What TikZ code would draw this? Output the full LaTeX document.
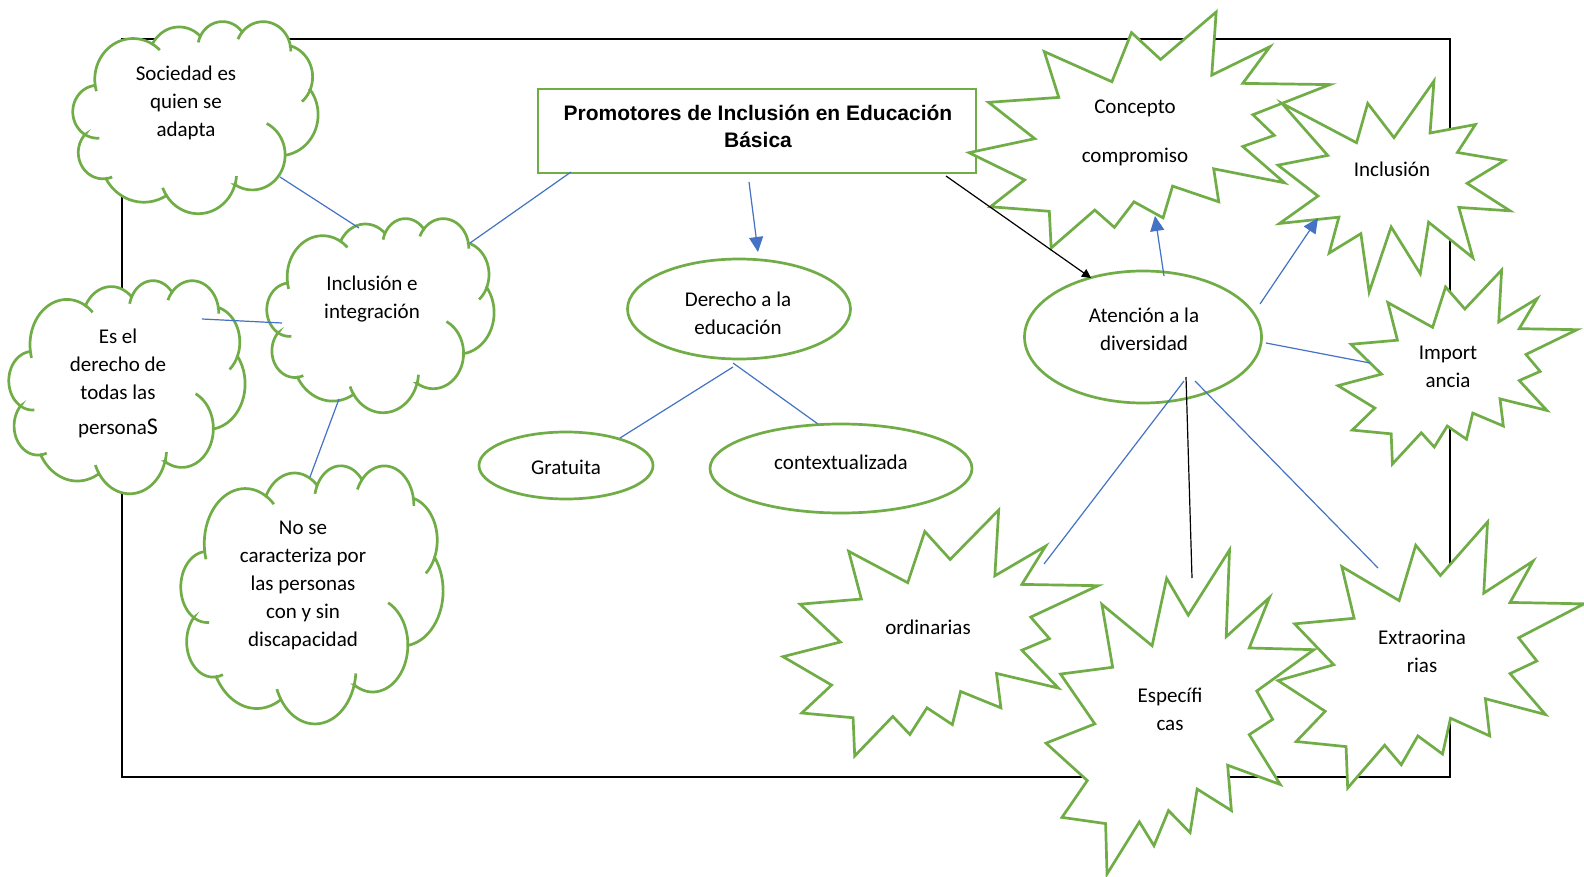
\documentclass[tikz,border=0pt]{standalone}
\usepackage{fontspec}
\setmainfont{Carlito}
\newfontfamily\arialf{Liberation Sans}
\usetikzlibrary{arrows.meta,shapes.geometric}
\definecolor{wgreen}{HTML}{70AD47}
\definecolor{wblue}{HTML}{4472C4}

\tikzset{
 shapeline/.style={draw=wgreen, line width=2.7pt},
 carc/.style={domain=#1, samples=26, variable=\t},
 txt/.style={align=center, inner sep=0pt, font=\fontsize{21}{28}\selectfont},
 ttl/.style={align=center, inner sep=0pt, font=\arialf\bfseries\fontsize{21}{27}\selectfont},
 ell/.style={ellipse, draw=wgreen, line width=2.7pt, fill=white, inner sep=0pt},
 bline/.style={draw=wblue, line width=1.2pt},
 barrow/.style={draw=wblue, line width=1.2pt, -{Triangle[length=15pt,width=14pt]}, fill=wblue},
 kline/.style={draw=black, line width=1.2pt},
 karrow/.style={draw=black, line width=1.2pt, -{Triangle[length=9pt,width=9pt]}},
}

% cloud in a 100 x 100 box, placed at left #1, top #2, size #3 x #4
\newcommand\wcloud[4]{%
\begin{scope}[shift={(#1,#2)}, xscale=#3/100, yscale=#4/100]
 \filldraw[shapeline,fill=white]
  plot[carc=-187.75:-59.65] ({24.516+15.632*cos(\t)},{30.396+21.273*sin(\t)})
  -- plot[carc=-152.02:-45.44] ({43.317+12.345*cos(\t)},{19.928+16.822*sin(\t)})
  -- plot[carc=-153.49:-37.32] ({61.021+10.104*cos(\t)},{14.083+13.762*sin(\t)})
  -- plot[carc=-139.70:-10.21] ({77.634+11.243*cos(\t)},{15.616+15.266*sin(\t)})
  -- plot[carc=-74.77:23.21] ({85.456+12.345*cos(\t)},{29.155+16.836*sin(\t)})
  -- plot[carc=-37.53:81.86] ({84.363+15.683*cos(\t)},{48.792+21.343*sin(\t)})
  -- plot[carc=0.46:121.97] ({73.192+13.391*cos(\t)},{69.773+18.211*sin(\t)})
  -- plot[carc=16.85:146.25] ({51.144+15.630*cos(\t)},{79.039+21.331*sin(\t)})
  -- plot[carc=58.98:150.20] ({28.935+17.870*cos(\t)},{69.981+24.405*sin(\t)})
  -- plot[carc=83.31:223.11] ({12.252+10.093*cos(\t)},{68.505+13.699*sin(\t)})
  -- plot[carc=120.36:264.11] ({9.965+10.058*cos(\t)},{47.271+13.762*sin(\t)})
  -- cycle;
 \draw[shapeline]
  plot[carc=85.54:120.35] ({9.965+10.058*cos(\t)},{47.271+13.762*sin(\t)})
  plot[carc=68.27:83.30] ({12.252+10.093*cos(\t)},{68.505+13.699*sin(\t)})
  plot[carc=146.23:158.47] ({51.144+15.630*cos(\t)},{79.039+21.331*sin(\t)})
  plot[carc=4.74:16.85] ({51.144+15.630*cos(\t)},{79.039+21.331*sin(\t)})
  plot[carc=-64.00:0.46] ({73.192+13.391*cos(\t)},{69.773+18.211*sin(\t)})
  plot[carc=23.21:49.66] ({85.456+12.345*cos(\t)},{29.155+16.836*sin(\t)})
  plot[carc=-10.21:0.82] ({77.634+11.243*cos(\t)},{15.616+15.266*sin(\t)})
  plot[carc=-156.29:-139.71] ({77.634+11.243*cos(\t)},{15.616+15.266*sin(\t)})
  plot[carc=-167.73:-153.49] ({61.021+10.104*cos(\t)},{14.083+13.762*sin(\t)})
  plot[carc=-59.64:-45.74] ({24.516+15.632*cos(\t)},{30.396+21.273*sin(\t)})
  plot[carc=163.19:172.25] ({24.516+15.632*cos(\t)},{30.396+21.273*sin(\t)});
\end{scope}}

% explosion 1 in a unit box
\newcommand\sealone[4]{%
\begin{scope}[shift={(#1,#2)}, xscale=#3, yscale=#4]
 \filldraw[shapeline,fill=white] (0.5,0.26852) -- (0.67231,0) -- (0.65532,0.24653)
  -- (0.85093,0.20634) -- (0.77324,0.33866) -- (0.97671,0.37671) -- (0.81514,0.48495)
  -- (1,0.61528) -- (0.77949,0.59917) -- (0.84005,0.83773) -- (0.64907,0.66931)
  -- (0.61329,0.91375) -- (0.48759,0.69144) -- (0.39282,1) -- (0.35718,0.72347)
  -- (0.22046,0.81560) -- (0.26236,0.64523) -- (0.00625,0.67532) -- (0.17231,0.54514)
  -- (0,0.39884) -- (0.21421,0.35264) -- (0.01713,0.10625) -- (0.33852,0.29259)
  -- (0.38667,0.10625) -- cycle;
\end{scope}}

% explosion 2 in a unit box
\newcommand\sealtwo[4]{%
\begin{scope}[shift={(#1,#2)}, xscale=#3, yscale=#4]
 \filldraw[shapeline,fill=white] (0.53065,0.20102) -- (0.68472,0) -- (0.67245,0.26745)
  -- (0.83366,0.14685) -- (0.75833,0.30241) -- (1,0.30764) -- (0.78634,0.43528)
  -- (0.84583,0.52269) -- (0.75833,0.56991) -- (0.87394,0.72370) -- (0.67778,0.66435)
  -- (0.69176,0.80417) -- (0.56389,0.73773) -- (0.53759,0.87231) -- (0.45704,0.80417)
  -- (0.40278,0.91259) -- (0.34847,0.83912) -- (0.22764,1) -- (0.22245,0.84444)
  -- (0.05949,0.82523) -- (0.15417,0.71157) -- (0,0.59616) -- (0.18218,0.53667)
  -- (0.05426,0.38287) -- (0.24870,0.36190) -- (0.20843,0.16782) -- (0.39583,0.29546)
  -- (0.45009,0.08736) -- cycle;
\end{scope}}

\begin{document}
\begin{tikzpicture}[x=1pt,y=-1pt]
\useasboundingbox (0,0) rectangle (1584,877);
\fill[white] (0,0) rectangle (1584,877);

% frame
\draw[line width=2.2pt] (122,39) rectangle (1450,777);

% clouds
\wcloud{73}{21}{245}{192}
\wcloud{267}{218}{227}{194}
\wcloud{9}{280}{236}{213}
\wcloud{181}{465}{262}{258}

% title box and ellipses
\node[draw=wgreen, line width=2.7pt, fill=white, minimum width=438pt, minimum height=84pt, inner sep=0pt] (title) at (757,131) {};
\node[ell, minimum width=223pt, minimum height=100pt] (derecho) at (739,309) {};
\node[ell, minimum width=174pt, minimum height=67pt] (gratuita) at (566,465.5) {};
\node[ell, minimum width=262pt, minimum height=89pt] (context) at (841,468.5) {};
\node[ell, minimum width=237pt, minimum height=132pt] (atencion) at (1143,337) {};

% explosion shapes
\sealtwo{969}{12}{361}{236}
\sealone{1278}{81}{232}{211}
\sealtwo{1338}{270}{239}{194}
\sealtwo{783}{510}{315}{246}
\sealtwo{1046}{550}{268}{324}
\sealtwo{1278}{522}{306}{266}

% texts
\node[ttl] (title-t) at (758,126.5) {Promotores de Inclusión en Educación\\Básica};
\node[txt] (soc-t) at (186,103) {Sociedad es\\quien se\\adapta};
\node[txt] (inc-t) at (372,299.5) {Inclusión e\\integración};
\node[txt] (der-t) at (118,383) {Es el\\derecho de\\todas las\\[7pt]persona{\fontsize{24}{28}\selectfont S}};
\node[txt] (nose-t) at (303,585.5) {No se\\caracteriza por\\las personas\\con y sin\\discapacidad};
\node[txt] (derecho-t) at (738,313) {Derecho a la\\educación};
\node[txt] (gratuita-t) at (566,467) {Gratuita};
\node[txt] (context-t) at (841,462) {contextualizada};
\node[txt] (atencion-t) at (1144,329.5) {Atención a la\\diversidad};
\node[txt] (concepto-t) at (1135,132.5) {Concepto\\[21pt]compromiso};
\node[txt] (inclusion-t) at (1392,169) {Inclusión};
\node[txt] (import-t) at (1448,366.5) {Import\\ancia};
\node[txt] (ordin-t) at (928,627) {ordinarias};
\node[txt] (espec-t) at (1170,709) {Específi\\cas};
\node[txt] (extra-t) at (1422,651) {Extraorina\\rias};

% connector end points
\coordinate (titleSW) at (571,172);
\coordinate (incNE) at (470,243);
\coordinate (titleS) at (749,182);
\coordinate (derN) at (758,252);
\coordinate (titleSE) at (946,176);
\coordinate (atenNW) at (1091,278);
\coordinate (socSE) at (280,177);
\coordinate (incN) at (359,228);
\coordinate (esE) at (202,319);
\coordinate (incW) at (282,323);
\coordinate (incS) at (339,399);
\coordinate (noseN) at (310,477);
\coordinate (derS1) at (733,367);
\coordinate (gratN) at (620,438);
\coordinate (derS2) at (733,363);
\coordinate (contN) at (818,424);
\coordinate (atenN) at (1164,276);
\coordinate (concS) at (1155,216);
\coordinate (atenNE) at (1260,304);
\coordinate (inclSW) at (1318,218);
\coordinate (atenE) at (1266,343);
\coordinate (impW) at (1370,363);
\coordinate (atenS1) at (1184,381);
\coordinate (ordNE) at (1044,564);
\coordinate (atenS2) at (1186,377);
\coordinate (espN) at (1192,578);
\coordinate (atenS3) at (1195,381);
\coordinate (extNW) at (1378,568);

% connectors
\draw[bline] (titleSW) -- (incNE);
\draw[barrow] (titleS) -- (derN);
\draw[karrow] (titleSE) -- (atenNW);
\draw[bline] (socSE) -- (incN);
\draw[bline] (esE) -- (incW);
\draw[bline] (incS) -- (noseN);
\draw[bline] (derS1) -- (gratN);
\draw[bline] (derS2) -- (contN);
\draw[barrow] (atenN) -- (concS);
\draw[barrow] (atenNE) -- (inclSW);
\draw[bline] (atenE) -- (impW);
\draw[bline] (atenS1) -- (ordNE);
\draw[kline] (atenS2) -- (espN);
\draw[bline] (atenS3) -- (extNW);
\end{tikzpicture}
\end{document}
